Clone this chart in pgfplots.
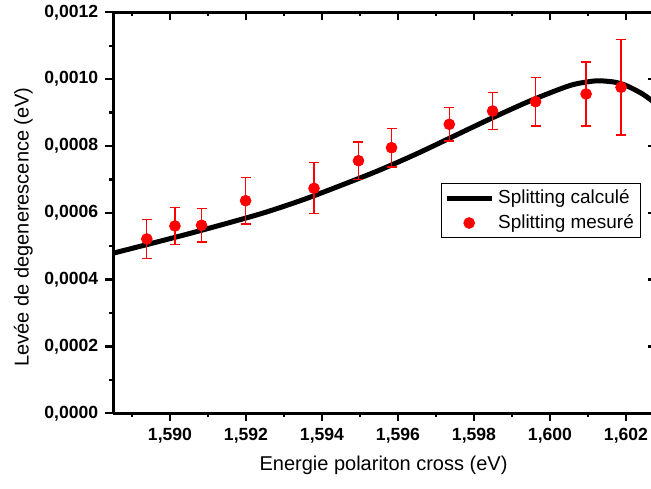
\documentclass[border=0pt]{standalone}
\usepackage{fontspec}
\setmainfont{Liberation Sans}
\usepackage{pgfplots}
\pgfplotsset{compat=1.18}
\pgfplotsset{
  lineleg/.style={legend image code/.code={\draw[##1] (0pt,0pt) -- (22.5pt,0pt);}},
  markleg/.style={legend image code/.code={\draw[##1] plot coordinates {(11.25pt,0pt)};}},
  common/.style={
    width=271.35pt, height=200.5pt, scale only axis,
    xmin=1.588508, xmax=1.602789, ymin=0, ymax=0.0012,
    xtick={1.590,1.592,1.594,1.596,1.598,1.600,1.602},
    minor xtick={1.589,1.591,1.593,1.595,1.597,1.599,1.601},
    ytick={0,0.0002,0.0004,0.0006,0.0008,0.0010,0.0012},
    minor ytick={0.0001,0.0003,0.0005,0.0007,0.0009,0.0011},
    major tick length=4pt, minor tick length=2pt,
    every tick/.style={black, line width=1.2pt},
    axis line style={line width=1.4pt, black},
    scaled x ticks=false, scaled y ticks=false,
    /pgf/number format/assume math mode=true,
    tick label style={font=\fontsize{8.8}{10}\selectfont\bfseries},
    xticklabel style={/pgf/number format/.cd, fixed, fixed zerofill, precision=3, use comma},
    yticklabel style={/pgf/number format/.cd, fixed, fixed zerofill, precision=4, use comma},
  }
}
\begin{document}
\begin{tikzpicture}
\begin{axis}[common, axis x line*=bottom, axis y line*=left, tick align=outside,
  label style={font=\fontsize{11.2}{13}\selectfont},
  every axis x label/.style={at={(axis description cs:0.498,-0.131)}, anchor=center},
  every axis y label/.style={at={(axis description cs:-0.166,0.465)}, anchor=center, rotate=90},
  xlabel={Energie polariton cross (eV)},
  ylabel={Levée de degenerescence (eV)},
  legend style={font=\fontsize{9.46}{11}\selectfont, draw=black, line width=0.5pt,
    at={(0.973,0.574)}, anchor=north east, inner xsep=1.5pt, inner ysep=1pt,
    cells={anchor=west}, row sep=0pt},
]
\addplot[black, line width=2.5pt, smooth, lineleg] coordinates {
(1.5885, 0.000479)
(1.5895, 0.000508)
(1.5905, 0.0005375)
(1.5915, 0.0005685)
(1.5925, 0.000601)
(1.5935, 0.000639)
(1.5945, 0.000682)
(1.5955, 0.000727)
(1.5965, 0.000777)
(1.5975, 0.000831)
(1.5985, 0.000885)
(1.5995, 0.000936)
(1.6005, 0.000980)
(1.6010, 0.000992)
(1.6013, 0.000995)
(1.6017, 0.000991)
(1.6020, 0.000981)
(1.6024, 0.000958)
(1.60266, 0.0009375)
(1.6028, 0.000925)
};
\addlegendentry{Splitting calculé}
\addplot[only marks, mark=*, mark size=2.7pt, red, mark options={fill=red, draw=red, line width=0.4pt},
  markleg,
  error bars/.cd, y dir=both, y explicit,
  error bar style={red, line width=0.6pt},
  error mark options={rotate=90, red, mark size=2.5pt, line width=0.6pt}] coordinates {
(1.58939, 0.0005216) +- (0, 0.0000574)
(1.59013, 0.0005605) +- (0, 0.0000560)
(1.59083, 0.0005626) +- (0, 0.0000500)
(1.59199, 0.0006362) +- (0, 0.0000700)
(1.59379, 0.0006733) +- (0, 0.0000760)
(1.59496, 0.0007559) +- (0, 0.0000560)
(1.59583, 0.0007948) +- (0, 0.0000580)
(1.59735, 0.0008648) +- (0, 0.0000500)
(1.59849, 0.0009046) +- (0, 0.0000550)
(1.59962, 0.0009325) +- (0, 0.0000730)
(1.60095, 0.0009555) +- (0, 0.0000960)
(1.60187, 0.0009756) +- (0, 0.0001430)
};
\addlegendentry{Splitting mesuré}
\coordinate (BL) at (axis cs:1.5855263,-0.0002265);
\coordinate (TR) at (axis cs:1.602658,0.0012368);
\end{axis}
\begin{axis}[common, axis x line*=top, axis y line*=right, tick align=inside,
  xticklabels={}, yticklabels={}]
\end{axis}
\pgfresetboundingbox
\useasboundingbox (BL) rectangle (TR);
\end{tikzpicture}
\end{document}
